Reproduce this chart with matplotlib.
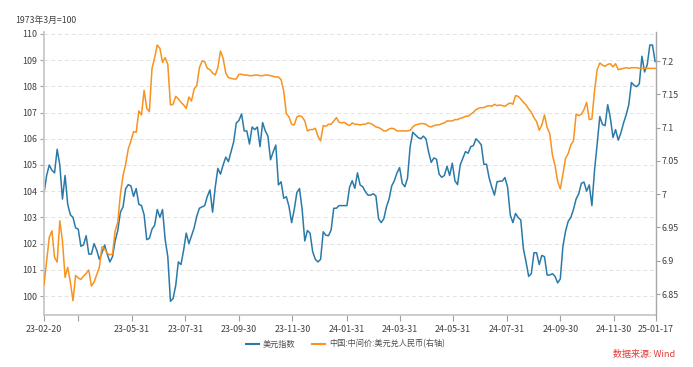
import matplotlib
matplotlib.use("Agg")
import matplotlib.pyplot as plt
import matplotlib.dates as mdates
import numpy as np
import pandas as pd

plt.rcParams['font.family'] = ['Noto Sans CJK SC', 'DejaVu Sans']

# sample dates, every 3 calendar days from 2023-02-20
dates = pd.date_range("2023-02-20", periods=233, freq="3D")

# 美元指数 (left axis)
usd_index = [
    103.92, 104.6, 105.0, 104.8, 104.7, 105.6, 105.0, 103.7, 104.6, 103.5,
    103.1, 103.0, 102.6, 102.55, 101.9, 101.95, 102.3, 101.6, 101.6, 102.0,
    101.75, 101.4, 101.65, 101.95, 101.6, 101.3, 101.5, 102.1, 102.5, 103.2,
    103.4, 104.1, 104.25, 104.2, 103.8, 104.1, 103.5, 103.45, 103.1, 102.15,
    102.2, 102.55, 102.7, 103.3, 103.0, 103.3, 102.15, 101.5, 99.8, 99.9,
    100.4, 101.3, 101.2, 101.75, 102.4, 102.0, 102.3, 102.6, 103.05, 103.35,
    103.4, 103.45, 103.8, 104.05, 103.2, 104.15, 104.87, 104.65, 105.0, 105.3,
    105.13, 105.5, 105.88, 106.6, 106.7, 106.95, 106.3, 106.3, 105.8, 106.45,
    106.35, 106.45, 105.7, 106.62, 106.3, 106.1, 105.2, 105.5, 105.76, 104.24,
    104.36, 103.73, 103.79, 103.42, 102.8, 103.3, 103.95, 104.1, 103.3, 102.1,
    102.5, 102.4, 101.69, 101.4, 101.3, 101.4, 102.45, 102.32, 102.3, 102.52,
    103.35, 103.35, 103.45, 103.45, 103.45, 103.45, 104.15, 104.4, 104.11, 104.7,
    104.24, 104.17, 103.98, 103.85, 103.85, 103.9, 103.82, 102.95, 102.8, 102.95,
    103.4, 103.7, 104.2, 104.4, 104.7, 104.9, 104.3, 104.17, 104.5, 105.7,
    106.25, 106.15, 106.05, 106.0, 106.1, 106.0, 105.5, 105.1, 105.27, 105.22,
    104.65, 104.53, 104.6, 104.95, 104.6, 105.07, 104.4, 104.25, 105.0, 105.25,
    105.51, 105.45, 105.7, 105.74, 106.0, 105.9, 105.77, 105.02, 105.03, 104.5,
    104.15, 103.85, 104.36, 104.38, 104.39, 104.52, 104.15, 103.1, 102.8, 103.15,
    103.0, 102.9, 101.8, 101.3, 100.75, 100.85, 101.65, 101.65, 101.2, 101.55,
    101.5, 100.8, 100.8, 100.85, 100.75, 100.5, 100.65, 101.9, 102.47, 102.85,
    103.0, 103.3, 103.7, 103.9, 104.3, 104.35, 104.0, 104.24, 103.45, 104.8,
    105.8, 106.85, 106.55, 106.5, 107.3, 106.8, 106.05, 106.35, 105.95, 106.22,
    106.6, 106.91, 107.3, 108.15, 108.04, 107.99, 108.1, 109.15, 108.55, 108.82,
    109.58, 109.58, 108.95,
]

# 中国:中间价:美元兑人民币 (right axis)
usd_cny = [
    6.864, 6.90, 6.935, 6.945, 6.905, 6.898, 6.96, 6.93, 6.875, 6.89,
    6.868, 6.84, 6.878, 6.874, 6.872, 6.877, 6.881, 6.886, 6.862, 6.868,
    6.879, 6.89, 6.921, 6.918, 6.911, 6.909, 6.91, 6.945, 6.958, 7.0,
    7.028, 7.045, 7.068, 7.08, 7.094, 7.093, 7.125, 7.119, 7.156, 7.129,
    7.124, 7.189, 7.205, 7.224, 7.219, 7.198, 7.205, 7.195, 7.134, 7.135,
    7.147, 7.143, 7.138, 7.134, 7.129, 7.146, 7.14, 7.158, 7.163, 7.19,
    7.20, 7.199, 7.189, 7.187, 7.182, 7.179, 7.19, 7.215, 7.204, 7.182,
    7.175, 7.174, 7.173, 7.173, 7.18, 7.18, 7.179, 7.179, 7.178, 7.178,
    7.179, 7.179, 7.178, 7.178, 7.179, 7.179, 7.178, 7.177, 7.176, 7.176,
    7.172, 7.155, 7.121, 7.116, 7.105, 7.104, 7.116, 7.118, 7.116, 7.11,
    7.095, 7.097, 7.097, 7.099, 7.087, 7.08, 7.103, 7.102, 7.105, 7.105,
    7.11, 7.115, 7.108, 7.107, 7.108, 7.105, 7.103, 7.107, 7.105, 7.105,
    7.104, 7.105, 7.105, 7.107, 7.106, 7.104, 7.101, 7.1, 7.098, 7.095,
    7.095, 7.098, 7.099, 7.098, 7.095, 7.095, 7.095, 7.095, 7.095, 7.096,
    7.101, 7.104, 7.105, 7.106, 7.106, 7.105, 7.102, 7.101, 7.103, 7.104,
    7.104, 7.106, 7.107, 7.11, 7.11, 7.11, 7.112, 7.112, 7.114, 7.115,
    7.117, 7.117, 7.12, 7.123, 7.127, 7.129, 7.13, 7.13, 7.132, 7.133,
    7.132, 7.135, 7.133, 7.134, 7.133, 7.132, 7.135, 7.137, 7.135, 7.148,
    7.147, 7.143, 7.138, 7.134, 7.128, 7.123, 7.115, 7.109, 7.096, 7.104,
    7.119, 7.1, 7.091, 7.059, 7.043, 7.019, 7.008, 7.03, 7.054, 7.061,
    7.074, 7.08, 7.12, 7.118, 7.12, 7.127, 7.138, 7.112, 7.113, 7.155,
    7.187, 7.197, 7.194, 7.192, 7.195, 7.196, 7.191, 7.196, 7.187, 7.188,
    7.189, 7.19, 7.189, 7.19, 7.19, 7.19, 7.189, 7.189, 7.189, 7.189,
    7.189, 7.189, 7.189,
]

tick_dates = ["2023-02-20", "2023-03-31", "2023-05-31", "2023-07-31", "2023-09-30",
              "2023-11-30", "2024-01-31", "2024-03-31", "2024-05-31", "2024-07-31",
              "2024-09-30", "2024-11-30", "2025-01-17"]
tick_labels = ["23-02-20", "", "23-05-31", "23-07-31", "23-09-30", "23-11-30",
               "24-01-31", "24-03-31", "24-05-31", "24-07-31", "24-09-30",
               "24-11-30", "25-01-17"]
left_ticks = [100, 101, 102, 103, 104, 105, 106, 107, 108, 109, 110]
right_ticks = [6.85, 6.9, 6.95, 7.0, 7.05, 7.1, 7.15, 7.2]
right_labels = ["6.85", "6.9", "6.95", "7", "7.05", "7.1", "7.15", "7.2"]

blue = "#2a7aa9"
orange = "#f7931e"
txt = "#404040"

fig = plt.figure(figsize=(6.93, 3.67), dpi=100)
ax = fig.add_axes([0.0635, 0.1417, 0.8831, 0.7711])
ax2 = ax.twinx()

l1, = ax.plot(dates, usd_index, color=blue, lw=1.1, label="美元指数")
l2, = ax2.plot(dates, usd_cny, color=orange, lw=1.1, label="中国:中间价:美元兑人民币(右轴)")

ax.set_xlim(pd.Timestamp("2023-02-20"), pd.Timestamp("2025-01-17"))
ax.set_ylim(99.275, 110.076)
ax2.set_ylim(6.8185, 7.2436)

ax.set_yticks(left_ticks)
ax.set_yticklabels([str(v) for v in left_ticks])
ax2.set_yticks(right_ticks)
ax2.set_yticklabels(right_labels)
ax.set_xticks([pd.Timestamp(d) for d in tick_dates])
ax.set_xticklabels(tick_labels)

ax.yaxis.grid(True, color="#e3e3e3", lw=0.7, linestyle=(0, (4, 3)))
ax.set_axisbelow(True)

for a in (ax, ax2):
    a.spines["top"].set_visible(False)
ax.spines["right"].set_visible(False)
ax2.spines["left"].set_visible(False)
ax2.spines["bottom"].set_visible(False)
ax.spines["left"].set_color("#c8c8c8")
ax.spines["left"].set_linewidth(1.3)
ax.spines["bottom"].set_color("#c8c8c8")
ax.spines["bottom"].set_linewidth(1.3)
ax2.spines["right"].set_color("#a8a8a8")
ax2.spines["right"].set_linewidth(1.0)

ax.tick_params(axis="y", length=3, color="#a0a0a0", labelsize=6.4, labelcolor=txt, pad=2)
ax.tick_params(axis="x", length=4, color="#a0a0a0", labelsize=6.4, labelcolor=txt, pad=3)
ax2.tick_params(axis="y", length=3, color="#a0a0a0", labelsize=6.4, labelcolor=txt, pad=1)

fig.text(15 / 693, 1 - 20 / 367, "1973年3月=100", fontsize=6.3, color=txt, va="center")
leg = fig.legend(handles=[l1, l2], loc="center", bbox_to_anchor=(0.498, 0.063), ncol=2,
                 frameon=False, fontsize=5.9, handlelength=1.6, columnspacing=2.0,
                 handletextpad=0.5, labelcolor="#505050")
for h in leg.get_lines():
    h.set_linewidth(1.5)
fig.text(675 / 693, 1 - 355 / 367, "数据来源: Wind", fontsize=6.5, color="#e53935",
         ha="right", va="center")

fig.savefig("out.png", dpi=100)
